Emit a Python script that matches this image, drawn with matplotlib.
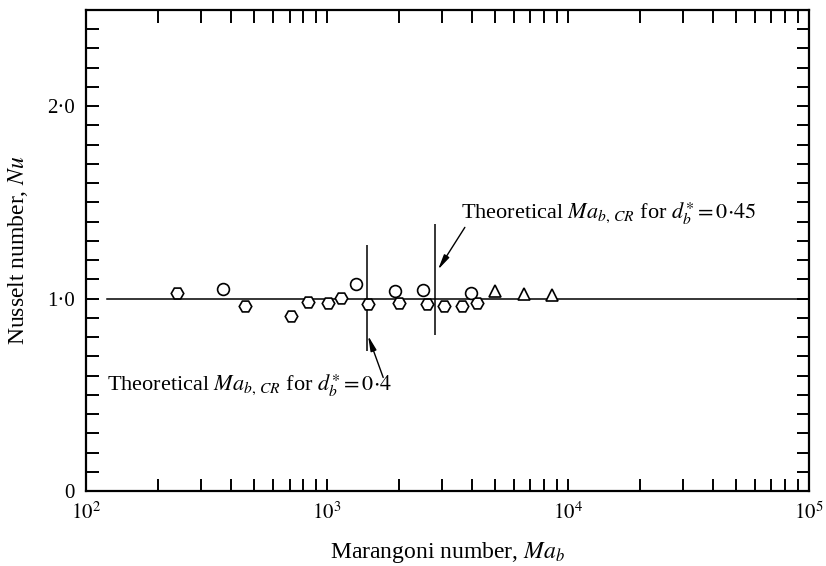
import numpy as np
import matplotlib
matplotlib.use('Agg')
import matplotlib.pyplot as plt
from matplotlib.ticker import FixedLocator, NullFormatter

plt.rcParams['font.family'] = ['Liberation Serif', 'DejaVu Serif']
plt.rcParams['mathtext.fontset'] = 'stix'

# Data
hex_ma = [238, 457, 713, 836, 1007, 1140, 1483, 1995, 2609, 3069, 3640, 4217]
hex_nu = [1.03, 0.96, 0.91, 0.98, 0.975, 1.005, 0.97, 0.975, 0.97, 0.96, 0.96, 0.975]
circ_ma = [372, 1319, 1914, 2513, 3981]
circ_nu = [1.05, 1.075, 1.04, 1.045, 1.03]
tri_ma = [4977, 6560, 8610]
tri_nu = [1.04, 1.025, 1.02]

ref_line_ma = [122, 100000]
ref_line_nu = [1.0, 1.0]

# theoretical critical Marangoni numbers (vertical bars)
crit_ma = [1462, 2806]
crit_lo = [0.73, 0.81]
crit_hi = [1.28, 1.385]

fig = plt.figure(figsize=(8.26, 5.66), dpi=100)
ax = fig.add_axes([0.104, 0.1325, 0.875, 0.85])

ax.plot(ref_line_ma, ref_line_nu, color='black', lw=1.1, zorder=1)
ax.vlines(crit_ma, crit_lo, crit_hi, color='black', lw=1.1, zorder=1)

mk = dict(linestyle='none', markerfacecolor='white', markeredgecolor='black',
          markeredgewidth=1.2, zorder=3)
ax.plot(hex_ma, hex_nu, marker='H', markersize=9, **mk)
ax.plot(circ_ma, circ_nu, marker='o', markersize=8.5, **mk)
ax.plot(tri_ma, tri_nu, marker='^', markersize=9, **mk)

arrow = dict(arrowstyle='-|>,head_length=0.9,head_width=0.18', color='black',
             lw=1.0, shrinkA=0, shrinkB=0)
ax.annotate('', xy=(1483, 0.807), xytext=(1714, 0.59), arrowprops=arrow)
ax.annotate('', xy=(2893, 1.15), xytext=(3741, 1.37), arrowprops=arrow)

ax.text(122, 0.55, r'Theoretical $Ma_{b,\,CR}$ for $d_b^{\ast}=0{\cdot}4$',
        fontsize=16, ha='left', va='center')
ax.text(3600, 1.445, r'Theoretical $Ma_{b,\,CR}$ for $d_b^{\ast}=0{\cdot}45$',
        fontsize=16, ha='left', va='center')

ax.set_xscale('log')
ax.set_xlim(100, 100000)
ax.set_ylim(0, 2.5)

xmajor = [100, 1000, 10000, 100000]
xminor = [k * 10 ** n for n in range(2, 5) for k in range(2, 10)]
ax.xaxis.set_major_locator(FixedLocator(xmajor))
ax.xaxis.set_minor_locator(FixedLocator(xminor))
ax.xaxis.set_minor_formatter(NullFormatter())
ax.set_xticklabels([r'$10^2$', r'$10^3$', r'$10^4$', r'$10^5$'])

ax.yaxis.set_major_locator(FixedLocator([0, 1.0, 2.0]))
ax.yaxis.set_minor_locator(FixedLocator(np.arange(0.1, 2.5, 0.1)))
ax.set_yticklabels(['0', '1\u00b70', '2\u00b70'])

ax.tick_params(which='both', direction='in', top=True, right=True,
               length=9, width=1.4, labelsize=15)
ax.tick_params(axis='x', pad=8)
ax.tick_params(axis='y', pad=8)
for s in ax.spines.values():
    s.set_linewidth(1.6)

ax.set_xlabel(r'Marangoni number, $Ma_b$', fontsize=17, labelpad=12)
ax.set_ylabel(r'Nusselt number, $Nu$', fontsize=17, labelpad=12)

fig.savefig('out.png', dpi=100)
